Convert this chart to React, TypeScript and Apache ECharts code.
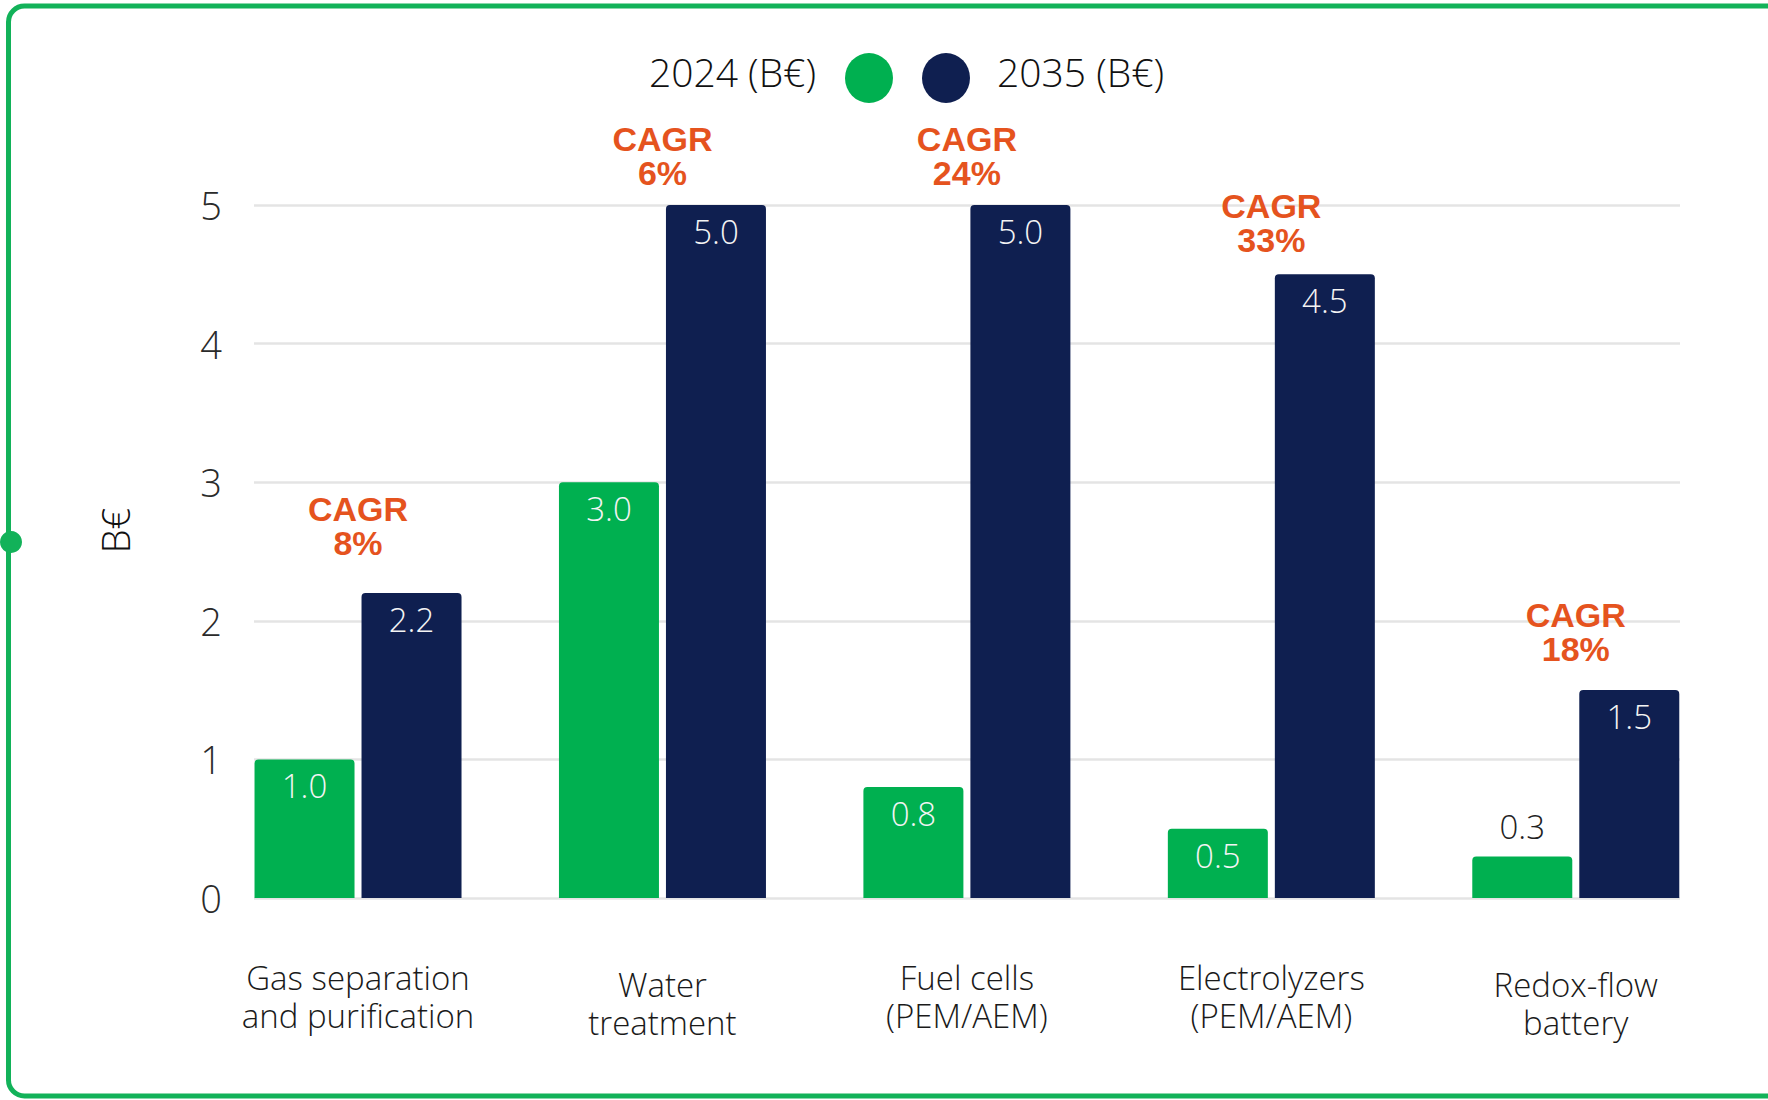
import React, { useEffect, useRef } from "react";
import * as echarts from "echarts";

const categories = [
  "Gas separation\nand purification",
  "Water\ntreatment",
  "Fuel cells\n(PEM/AEM)",
  "Electrolyzers\n(PEM/AEM)",
  "Redox-flow\nbattery",
];
const values2024 = [1.0, 3.0, 0.8, 0.5, 0.3];
const values2035 = [2.2, 5.0, 5.0, 4.5, 1.5];
const cagrLabels = ["8%", "6%", "24%", "33%", "18%"];
const yTicks = [0, 1, 2, 3, 4, 5];

const seriesNames = ["2024 (B€)", "2035 (B€)"];

// styling helpers (not data)
const cagrDistance = [33, 15, 15, 17, 24];
const catLabelPad = [0, 7, 0, 0, 7];

const GREEN = "#00B050";
const NAVY = "#0F1F50";
const ORANGE = "#E5531E";
const BORDER = "#12B259";
const LIGHT = "Open Sans";

export default function App() {
  const ref = useRef<HTMLDivElement>(null);
  useEffect(() => {
    if (!ref.current) return;
    const chart = echarts.init(ref.current, null, { renderer: "svg" });
    const yMin = yTicks[0];
    const yMax = yTicks[yTicks.length - 1];
    const icon = "path://M24,0A24,25 0 1 1 24,50A24,25 0 1 1 24,0Z";
    const legendText = (pad: number[]) => ({
      fontFamily: LIGHT,
      fontWeight: 300,
      fontSize: 39,
      color: "#111",
      rich: {
        t: {
          fontFamily: LIGHT,
          fontWeight: 300,
          fontSize: 39,
          color: "#111",
          padding: pad,
        },
      },
    });
    const option: any = {
      animation: false,
      backgroundColor: "#ffffff",
      graphic: [
        {
          type: "rect",
          shape: { x: 8.5, y: 6, width: 1800, height: 1090, r: 16 },
          style: { fill: "none", stroke: BORDER, lineWidth: 5 },
          z: -10,
        },
        {
          type: "circle",
          shape: { cx: 11, cy: 542, r: 11 },
          style: { fill: BORDER },
          z: -9,
        },
      ],
      legend: [
        {
          data: [seriesNames[0]],
          right: 870,
          top: 47,
          align: "right",
          itemWidth: 48,
          itemHeight: 50,
          icon,
          selectedMode: false,
          formatter: "{t|{name}}",
          textStyle: legendText([0, 24, 13, 0]),
        },
        {
          data: [seriesNames[1]],
          left: 917,
          top: 47,
          align: "left",
          itemWidth: 48,
          itemHeight: 50,
          icon,
          selectedMode: false,
          formatter: "{t|{name}}",
          textStyle: legendText([0, 0, 13, 22]),
        },
      ],
      grid: [
        { left: 205.8, right: 40, top: 205, bottom: 202 },
        { left: 254, right: 88, top: 205, bottom: 202 },
      ],
      xAxis: [
        {
          type: "category",
          gridIndex: 0,
          data: categories.map((c, i) => ({
            value: c,
            textStyle: { padding: [catLabelPad[i], 0, 0, 0] },
          })),
          axisLine: { show: false },
          axisTick: { show: false },
          axisLabel: {
            margin: 60,
            fontFamily: LIGHT,
            fontWeight: 300,
            fontSize: 33,
            lineHeight: 38,
            color: "#1a1a1a",
            interval: 0,
          },
        },
        {
          type: "value",
          gridIndex: 1,
          min: 0,
          max: 1,
          show: false,
        },
      ],
      yAxis: [
        {
          type: "value",
          gridIndex: 0,
          min: yMin,
          max: yMax,
          interval: 1,
          show: false,
        },
        {
          type: "value",
          gridIndex: 1,
          min: yMin,
          max: yMax,
          interval: 1,
          name: "B€",
          nameLocation: "middle",
          nameRotate: 90,
          nameGap: 120,
          nameTextStyle: {
            fontFamily: LIGHT,
            fontWeight: 300,
            fontSize: 38,
            color: "#111",
            padding: [0, 0, 0, 42],
          },
          axisLine: { show: false },
          axisTick: { show: false },
          axisLabel: {
            margin: 32,
            fontFamily: LIGHT,
            fontWeight: 300,
            fontSize: 38,
            color: "#2a2a2a",
          },
          splitLine: { show: true, lineStyle: { color: "#e4e4e4", width: 2.5 } },
        },
      ],
      series: [
        {
          name: seriesNames[0],
          type: "bar",
          xAxisIndex: 0,
          yAxisIndex: 0,
          barWidth: 100,
          barGap: "7%",
          itemStyle: { color: GREEN, borderRadius: [4, 4, 0, 0] },
          data: values2024.map((v) => {
            const inside = v >= 0.5;
            return {
              value: v,
              label: inside
                ? {
                    show: true,
                    position: "insideTop",
                    distance: 10,
                    color: "#f4f4f4",
                  }
                : {
                    show: true,
                    position: "top",
                    distance: 13,
                    color: "#222",
                  },
            };
          }),
          label: {
            fontFamily: LIGHT,
            fontWeight: 300,
            fontSize: 33,
            lineHeight: 33,
            formatter: (p: any) => Number(p.value).toFixed(1),
          },
        },
        {
          name: seriesNames[1],
          type: "bar",
          xAxisIndex: 0,
          yAxisIndex: 0,
          barWidth: 100,
          barGap: "7%",
          itemStyle: { color: NAVY, borderRadius: [4, 4, 0, 0] },
          data: values2035,
          label: {
            show: true,
            position: "insideTop",
            distance: 10,
            color: "#f4f4f4",
            fontFamily: LIGHT,
            fontWeight: 300,
            fontSize: 33,
            lineHeight: 33,
            formatter: (p: any) => Number(p.value).toFixed(1),
          },
        },
        {
          type: "scatter",
          xAxisIndex: 0,
          yAxisIndex: 0,
          symbolSize: 1,
          itemStyle: { color: "transparent", opacity: 1 },
          silent: true,
          z: 5,
          data: values2035.map((v, i) => ({
            value: v,
            label: {
              show: true,
              position: "top",
              distance: cagrDistance[i],
              formatter: "CAGR\n" + cagrLabels[i],
              color: ORANGE,
              opacity: 1,
              fontFamily: "Liberation Sans",
              fontWeight: "bold",
              fontSize: 34,
              lineHeight: 34,
              align: "center",
            },
          })),
        },
      ],
    };
    chart.setOption(option);
    return () => chart.dispose();
  }, []);
  return (
    <div
      ref={ref}
      style={{ position: "absolute", left: 0, top: 0, width: 1768, height: 1100 }}
    />
  );
}
